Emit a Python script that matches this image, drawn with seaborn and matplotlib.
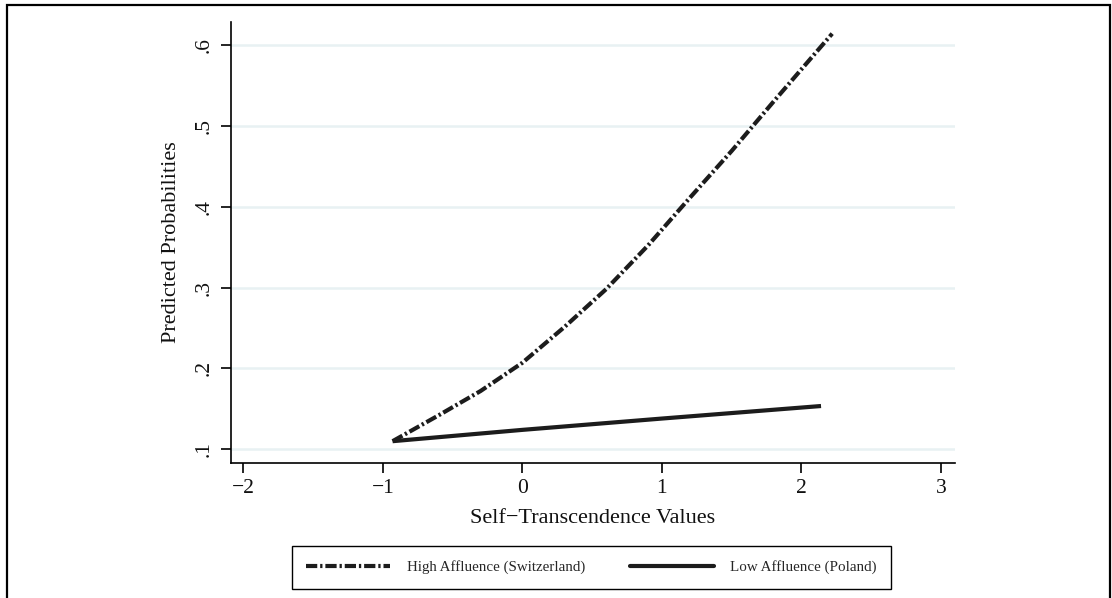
import matplotlib
matplotlib.use("Agg")
import matplotlib.pyplot as plt
from matplotlib.lines import Line2D
import seaborn as sns
import pandas as pd

# ---- data ----
high_x = [-0.93, -0.6, -0.3, 0.0, 0.3, 0.6, 0.9, 1.2, 1.5, 1.8, 2.1, 2.22]
high_y = [0.110, 0.142, 0.172, 0.207, 0.251, 0.298, 0.352, 0.411, 0.469, 0.530, 0.590, 0.614]
low_x = [-0.93, 0.0, 1.0, 2.14]
low_y = [0.110, 0.124, 0.138, 0.1535]
series_names = ["High Affluence (Switzerland)", "Low Affluence (Poland)"]
x_ticks = [-2, -1, 0, 1, 2, 3]
x_tick_labels = ["\u22122", "\u22121", "0", "1", "2", "3"]
y_ticks = [0.1, 0.2, 0.3, 0.4, 0.5, 0.6]
y_tick_labels = [".1", ".2", ".3", ".4", ".5", ".6"]
x_label = "Self\u2212Transcendence Values"
y_label = "Predicted Probabilities"

df = pd.concat([
    pd.DataFrame({"x": high_x, "y": high_y, "group": series_names[0]}),
    pd.DataFrame({"x": low_x, "y": low_y, "group": series_names[1]}),
])

sns.set_theme(style="white")
plt.rcParams["font.family"] = ["Liberation Serif", "DejaVu Serif"]

W, H = 1112, 598
fig = plt.figure(figsize=(W / 100, H / 100), dpi=100)
ax = fig.add_axes([230.7 / W, 1 - 462.7 / H, (955 - 230.7) / W, (462.7 - 22) / H])

line_color = "#1c1c1c"
sns.lineplot(data=df, x="x", y="y", hue="group", palette={series_names[0]: line_color, series_names[1]: line_color},
             ax=ax, legend=False, estimator=None, sort=True)
lw = 3.0
hl, ll = ax.lines[0], ax.lines[1]
for ln in (hl, ll):
    ln.set_linewidth(lw)
    ln.set_solid_capstyle("butt")
    ln.set_dash_capstyle("butt")
dash_pattern = (0, (2.7, 0.7, 0.55, 0.7))
hl.set_linestyle(dash_pattern)

ax.set_xlim(-2.09, 3.10)
ax.set_ylim(0.0834, 0.6284)
ax.set_xticks(x_ticks)
ax.set_xticklabels(x_tick_labels, fontsize=15.5)
ax.set_yticks(y_ticks)
ax.set_yticklabels(y_tick_labels, fontsize=15.5, rotation=90, va="center")
ax.grid(False)
for yv in y_ticks:
    ax.axhline(yv, color="#e8f1f3", lw=1.8, zorder=0)

for s in ("top", "right"):
    ax.spines[s].set_visible(False)
for s in ("left", "bottom"):
    ax.spines[s].set_color("black")
    ax.spines[s].set_linewidth(1.2)
ax.tick_params(axis="both", direction="out", length=7, width=1.2, color="black", labelcolor="#111111",
               left=True, bottom=True, pad=5)

ax.set_xlabel(x_label, fontsize=16, labelpad=8, color="#111111")
ax.set_ylabel(y_label, fontsize=16, labelpad=10, color="#111111")

handles = [Line2D([], [], color=line_color, lw=lw, linestyle=dash_pattern, dash_capstyle="butt"),
           Line2D([], [], color=line_color, lw=lw)]
leg = fig.legend(handles, series_names, loc="center", bbox_to_anchor=(591.5 / W, 1 - 567.5 / H), ncol=2,
                 fontsize=10.8, frameon=True, fancybox=False, handlelength=5.6, handletextpad=1.1,
                 columnspacing=3.0, borderpad=0.95, borderaxespad=0)
frame = leg.get_frame()
frame.set_edgecolor("black")
frame.set_linewidth(1.0)
frame.set_facecolor("white")
frame.set_alpha(1)

# outer frame (left, top, right)
fig.add_artist(Line2D([7 / W, 7 / W, 1109.5 / W, 1109.5 / W], [0, 1 - 5 / H, 1 - 5 / H, 0],
                      transform=fig.transFigure, color="black", lw=1.6, solid_joinstyle="miter"))

fig.savefig("out.png", dpi=100, facecolor="white")
